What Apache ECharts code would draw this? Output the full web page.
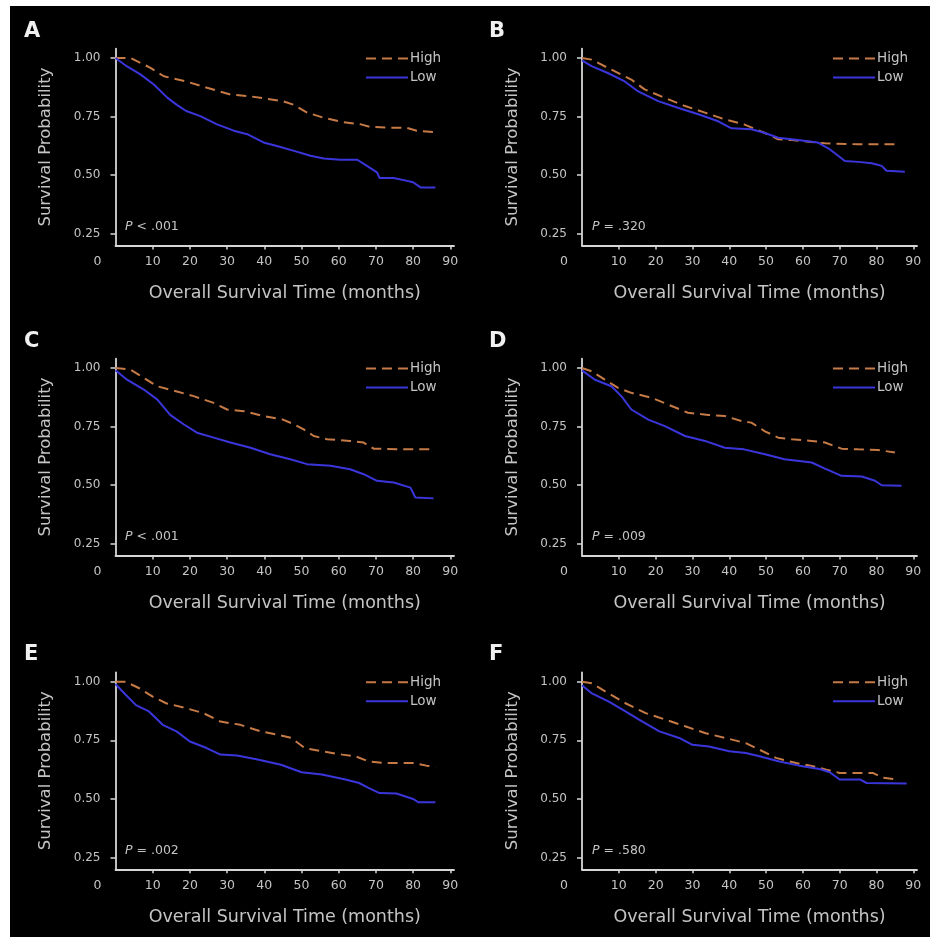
<!DOCTYPE html>
<html>
<head>
<meta charset="utf-8">
<script src="https://cdn.jsdelivr.net/npm/echarts@6/dist/echarts.min.js"></script>
<style>
  html, body { margin: 0; padding: 0; background: #fff; }
  #chart { width: 930px; height: 937px; }
</style>
</head>
<body>
<div id="chart"></div>
<script>
// Kaplan-Meier curves: [months, survival probability]
const highA = [[0,1.0],[4,1.0],[9.4,0.958],[13,0.922],[19,0.90],[24.6,0.873],[31,0.844],[36,0.837],[40.7,0.826],[45,0.816],[48,0.80],[51.5,0.767],[56,0.745],[61,0.727],[66,0.717],[68.5,0.706],[74,0.703],[78,0.703],[81,0.69],[86,0.684]];
const lowA = [[0,1.0],[3,0.965],[6.7,0.93],[10.3,0.887],[14,0.83],[16.5,0.80],[19,0.774],[22.8,0.752],[27.3,0.717],[31.8,0.69],[35.4,0.675],[39.8,0.64],[43.4,0.625],[48,0.604],[52.4,0.583],[56,0.571],[60.4,0.566],[65,0.566],[67.6,0.54],[70.3,0.512],[71,0.488],[74.8,0.488],[78.4,0.476],[80,0.47],[82,0.448],[86,0.448]];

const highB = [[0,1.0],[2.6,0.993],[8,0.95],[13.4,0.908],[17,0.866],[22.5,0.83],[28,0.795],[33.4,0.767],[38.8,0.738],[44,0.717],[49.7,0.68],[53.3,0.653],[57,0.65],[62.4,0.642],[66,0.636],[75,0.632],[85.5,0.632]];
const lowB = [[0,0.99],[2.6,0.965],[7,0.936],[11.6,0.90],[15,0.86],[20.7,0.816],[26,0.788],[31.6,0.76],[37,0.73],[40.6,0.70],[46,0.696],[49.7,0.68],[53.3,0.66],[58.7,0.65],[64,0.64],[67,0.614],[69.6,0.583],[71.4,0.561],[75,0.557],[78.7,0.551],[81.4,0.54],[82.7,0.519],[87.7,0.515]];

const highC = [[0,1.0],[4,0.993],[7.6,0.958],[11.2,0.922],[16.5,0.90],[21,0.88],[26.4,0.851],[30,0.823],[34.5,0.816],[39.8,0.795],[45,0.78],[48,0.76],[50.6,0.738],[53.3,0.71],[56.9,0.696],[63,0.689],[66.7,0.682],[69.4,0.656],[76.6,0.653],[85.5,0.653]];
const lowC = [[0,0.99],[3.1,0.95],[7.6,0.908],[11.2,0.866],[14.7,0.80],[18.3,0.76],[21.9,0.724],[26.4,0.703],[30.9,0.682],[36.3,0.66],[41.6,0.632],[47,0.611],[51.5,0.59],[57.8,0.583],[63.1,0.568],[66.7,0.547],[70.3,0.519],[74.8,0.512],[79.3,0.49],[80.6,0.448],[85.5,0.444]];

const highD = [[0,1.0],[2.6,0.986],[6.2,0.95],[9.8,0.915],[13.4,0.894],[18.9,0.873],[23.4,0.844],[28.8,0.809],[34.3,0.80],[38.8,0.795],[43.3,0.774],[46,0.767],[49.7,0.73],[53.3,0.703],[57,0.696],[62.4,0.689],[66,0.682],[70.5,0.656],[75,0.653],[80.5,0.65],[85,0.64]];
const lowD = [[0,0.99],[3.5,0.95],[8,0.922],[10.7,0.88],[13.4,0.823],[18,0.78],[22.5,0.752],[28,0.71],[33.4,0.689],[38.8,0.66],[44,0.653],[49.7,0.632],[55,0.611],[62.4,0.597],[66,0.571],[70.5,0.54],[76,0.537],[79.6,0.519],[81.4,0.50],[86.8,0.498]];

const highE = [[0,1.0],[2.7,1.0],[6.4,0.972],[10,0.936],[13.6,0.908],[19,0.887],[23.6,0.866],[28.2,0.83],[33.6,0.816],[39,0.788],[43.6,0.774],[47.3,0.76],[50.9,0.717],[55.5,0.703],[61,0.689],[64.5,0.682],[68,0.66],[72.7,0.653],[80,0.653],[83.6,0.642],[86,0.636]];
const lowE = [[0,0.99],[2.8,0.943],[5.5,0.90],[9,0.873],[12.7,0.816],[16.4,0.788],[20,0.745],[24.5,0.717],[28.2,0.689],[32.7,0.685],[38.2,0.668],[44.5,0.646],[50,0.614],[55.5,0.604],[61.8,0.583],[65.5,0.568],[68,0.547],[71,0.525],[75.5,0.523],[80,0.50],[81.4,0.486],[86,0.486]];

const highF = [[0,1.0],[2.7,0.993],[6.4,0.958],[11.8,0.908],[17.3,0.866],[22.7,0.838],[28.2,0.809],[33.6,0.78],[39,0.76],[44.5,0.738],[48.2,0.71],[52.7,0.675],[58.2,0.653],[62.7,0.64],[66.4,0.625],[70,0.611],[79,0.611],[81.8,0.59],[85.5,0.583]];
const lowF = [[0,0.985],[2.7,0.95],[7.3,0.915],[11.8,0.873],[15.5,0.838],[21,0.788],[26.4,0.76],[30,0.731],[34.5,0.724],[40,0.703],[44.5,0.696],[48.2,0.682],[53.6,0.66],[59,0.642],[64.5,0.628],[67.3,0.614],[70,0.583],[75.5,0.583],[77.3,0.568],[88.2,0.566]];

const panelLetters = ['A', 'B', 'C', 'D', 'E', 'F'];
const pValues = ['< .001', '= .320', '< .001', '= .009', '= .002', '= .580'];
const highSets = [highA, highB, highC, highD, highE, highF];
const lowSets = [lowA, lowB, lowC, lowD, lowE, lowF];
const xTicks = [10, 20, 30, 40, 50, 60, 70, 80, 90];
const xLabels = [0, 10, 20, 30, 40, 50, 60, 70, 80, 90];
const yTicks = [0.25, 0.5, 0.75, 1.0];

const axisColor = '#d6d6d6';
const textColor = '#c4c4c4';
const highColor = '#c67a46';
const lowColor = '#3b36dc';
const font = 'DejaVu Sans, sans-serif';

// panel layout (pixels)
const colLeft = [115.5, 582];
const colWidth = [338.5, 335];
const rowTop = [48.6, 358.6, 672.3];
const gridHeight = 197;

let myChart = echarts.init(document.getElementById('chart'));

let options = {
  backgroundColor: '#ffffff',
  animation: false,
  textStyle: { fontFamily: font },
  graphic: [{
    type: 'rect', z: -10, silent: true,
    shape: { x: 10, y: 6, width: 920, height: 931 },
    style: { fill: '#000000' }
  }],
  title: [],
  legend: [],
  grid: [],
  xAxis: [],
  yAxis: [],
  series: []
};

panelLetters.forEach(function(letter, i){
  let col = i % 2;
  let row = Math.floor(i / 2);
  let left = colLeft[col];
  let top = rowTop[row];

  options.grid.push({
    left: left, top: top, width: colWidth[col], height: gridHeight
  });

  options.xAxis.push({
    type: 'value', gridIndex: i, min: 0, max: 91,
    axisLine: { show: true, lineStyle: { color: axisColor, width: 1.8 } },
    axisTick: { show: true, customValues: xTicks, length: 4, lineStyle: { color: axisColor, width: 1.5 } },
    axisLabel: {
      customValues: xLabels, color: textColor, fontSize: 12.5, margin: 10,
      formatter: function(value){
        return value === 0 ? '{z|0}' : String(value);
      },
      rich: { z: { color: textColor, fontSize: 12.5, padding: [0, 36, 0, 0] } }
    },
    splitLine: { show: false },
    name: 'Overall Survival Time (months)',
    nameLocation: 'middle', nameGap: 39,
    nameTextStyle: { color: textColor, fontSize: 17.5 }
  });

  options.yAxis.push({
    type: 'value', gridIndex: i, min: 0.2, max: 1.04,
    axisLine: { show: true, lineStyle: { color: axisColor, width: 1.8 } },
    axisTick: { show: true, customValues: yTicks, length: 5, lineStyle: { color: axisColor, width: 1.5 } },
    axisLabel: {
      customValues: yTicks, color: textColor, fontSize: 12, margin: 15,
      formatter: function(value){ return value.toFixed(2); }
    },
    splitLine: { show: false },
    name: 'Survival Probability',
    nameLocation: 'middle', nameGap: 61,
    nameTextStyle: { color: textColor, fontSize: 16.5 }
  });

  options.series.push({
    name: 'High', type: 'line', xAxisIndex: i, yAxisIndex: i,
    data: highSets[i], showSymbol: false, symbol: 'none',
    lineStyle: { color: highColor, width: 2, type: [10, 6] },
    itemStyle: { color: highColor }
  });
  options.series.push({
    name: 'Low', type: 'line', xAxisIndex: i, yAxisIndex: i,
    data: lowSets[i], showSymbol: false, symbol: 'none',
    lineStyle: { color: lowColor, width: 2 },
    itemStyle: { color: lowColor }
  });

  options.legend.push({
    orient: 'vertical',
    left: col === 0 ? 365 : 832,
    top: top + 3,
    padding: 0,
    itemWidth: 42, itemHeight: 12, itemGap: 5,
    itemStyle: { opacity: 0 },
    textStyle: { color: textColor, fontSize: 13.5, padding: [0, 0, 0, -3] },
    data: ['High', 'Low']
  });

  options.title.push({
    text: letter,
    left: col === 0 ? 24 : 489,
    top: [21, 331, 644][row],
    padding: 0,
    textStyle: { color: '#f0f0f0', fontSize: 21, fontWeight: 'bold', fontFamily: font }
  });
  options.title.push({
    text: '{i|P} ' + pValues[i],
    left: col === 0 ? 125 : 592,
    top: top + 172,
    padding: 0,
    textStyle: {
      color: textColor, fontSize: 12.5, fontWeight: 'normal', fontFamily: font,
      rich: { i: { fontStyle: 'italic', color: textColor, fontSize: 12.5 } }
    }
  });
});

myChart.setOption(options);
</script>
</body>
</html>
